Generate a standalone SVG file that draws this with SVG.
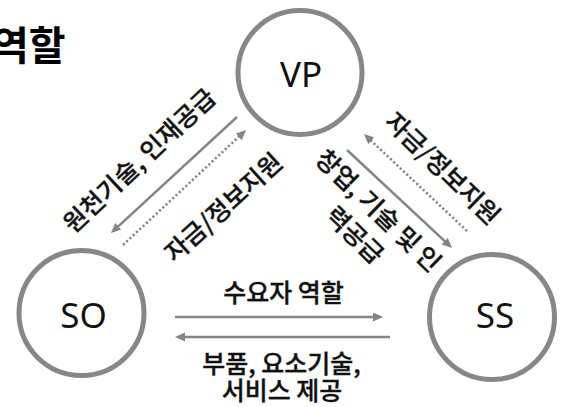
<svg xmlns="http://www.w3.org/2000/svg" width="568" height="407" viewBox="0 0 568 407">
<style>
.node{fill:#fff;stroke:#878787;stroke-width:5}
.nl{font-family:"Noto Sans","Open Sans",sans-serif;font-size:35px;fill:#111;text-anchor:middle}
.kl{font-family:"Noto Sans CJK KR",sans-serif;font-size:25px;font-weight:500;fill:#111;stroke:#111;stroke-width:0.35;text-anchor:middle}
.title{font-family:"Noto Sans CJK KR",sans-serif;font-size:40px;font-weight:700;fill:#000}
.ln{stroke:#858585;stroke-width:2.5;fill:none}
.dot{stroke-dasharray:2.2 2.3}
</style>
<defs>
<marker id="ah" markerUnits="userSpaceOnUse" markerWidth="12" markerHeight="10" refX="3" refY="4.5" orient="auto">
<path d="M0,0 L10,4.5 L0,9 z" fill="#858585"/>
</marker>
</defs>
<rect width="568" height="407" fill="#fff"/>
<text class="title" x="-8" y="60">역할</text>
<g id="VP"><circle class="node" cx="300" cy="72.5" r="62"/><text class="nl" x="301" y="87">VP</text></g>
<g id="SO"><circle class="node" cx="81.5" cy="313" r="62.5"/><text class="nl" x="83.5" y="328">SO</text></g>
<g id="SS"><circle class="node" cx="492" cy="317" r="62.5"/><text class="nl" x="495" y="328">SS</text></g>
<g id="connectors">
<line class="ln" x1="237" y1="117" x2="116.1" y2="228.3" marker-end="url(#ah)"/>
<line class="ln dot" x1="123" y1="245" x2="240.9" y2="134.8" marker-end="url(#ah)"/>
<line class="ln dot" x1="467" y1="231" x2="369.1" y2="138.8" marker-end="url(#ah)"/>
<line class="ln" x1="347" y1="150" x2="446.9" y2="243.2" marker-end="url(#ah)"/>
<line class="ln" x1="175" y1="317" x2="376" y2="317" marker-end="url(#ah)"/>
<line class="ln" x1="390" y1="337" x2="182" y2="337" marker-end="url(#ah)"/>
</g>
<g id="labels">
<text class="kl" transform="translate(139,160) rotate(-43)" y="9.5">원천기술, 인재공급</text>
<text class="kl" transform="translate(223,207) rotate(-42)" y="9.5">자금/정보지원</text>
<text class="kl" transform="translate(443,168) rotate(44)" y="9.5">자금/정보지원</text>
<text class="kl" transform="translate(367,222.5) rotate(44)"><tspan x="0" y="-7.5">창업, 기술 및 인</tspan><tspan x="0" y="26.5">력공급</tspan></text>
<text class="kl" x="283.5" y="302">수요자 역할</text>
<text class="kl"><tspan x="281.5" y="373">부품, 요소기술,</tspan><tspan x="282" y="400">서비스 제공</tspan></text>
</g>
</svg>
